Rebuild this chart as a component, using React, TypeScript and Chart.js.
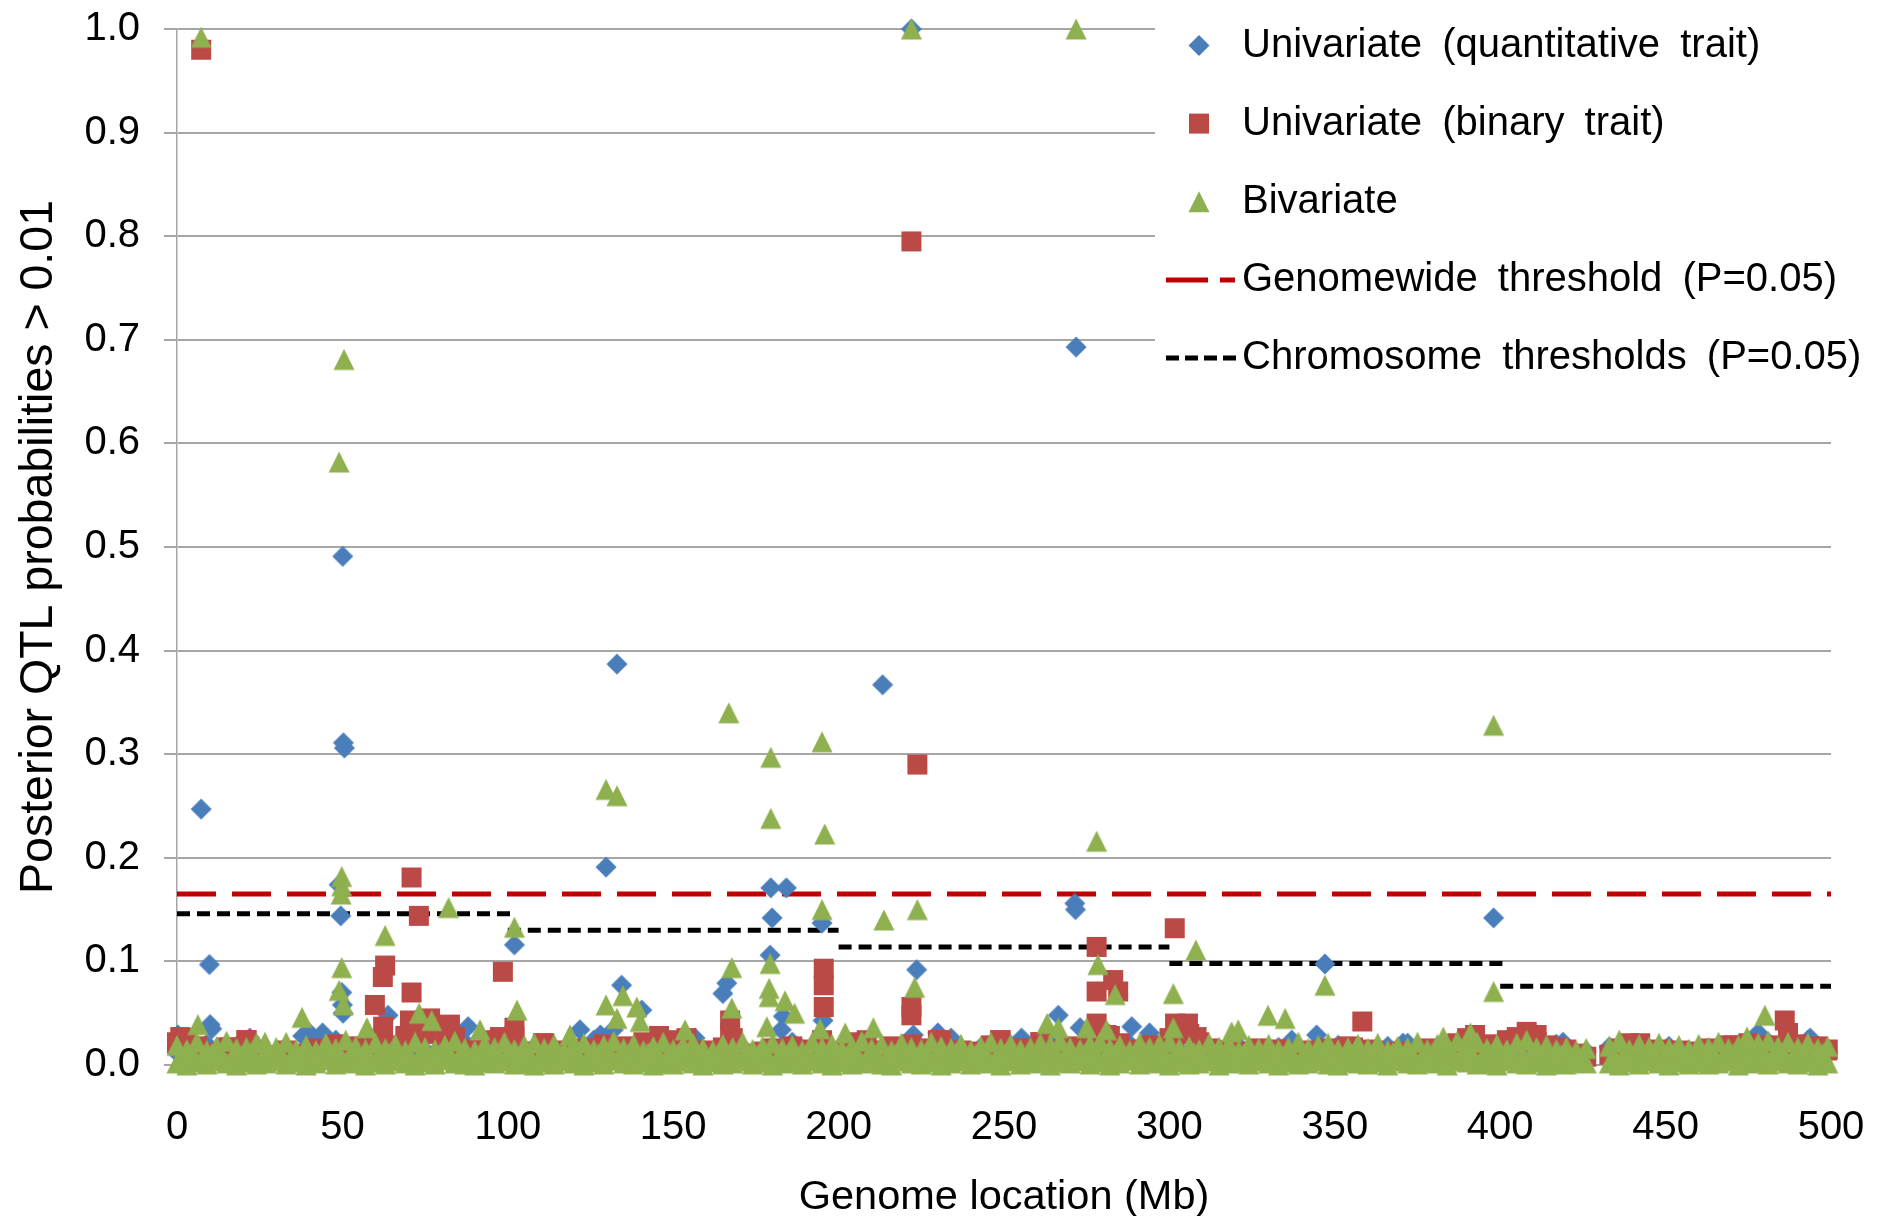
import React, { useEffect, useRef } from 'react';
import { Chart, registerables } from 'chart.js';

Chart.register(...registerables);

// ---------- data ----------
const xTitle = 'Genome location (Mb)';
const yTitle = 'Posterior QTL probabilities > 0.01';
const legendLabels = [
  'Univariate (quantitative trait)',
  'Univariate (binary trait)',
  'Bivariate',
  'Genomewide threshold (P=0.05)',
  'Chromosome thresholds (P=0.05)',
];

// marker positions (Mb) for the low background probabilities
const markerMb = [
  0, 3, 6, 9, 12, 15, 18, 21, 24, 27,
  30, 33, 36, 39, 42, 45, 48, 51, 54, 57,
  60, 63, 66, 69, 72, 75, 78, 81, 84, 87,
  90, 93, 96, 99, 102, 105, 108, 111, 114, 117,
  120, 123, 126, 129, 132, 135, 138, 141, 144, 147,
  150, 153, 156, 159, 162, 165, 168, 171, 174, 177,
  180, 183, 186, 189, 192, 195, 198, 201, 204, 207,
  210, 213, 216, 219, 222, 225, 228, 231, 234, 237,
  240, 243, 246, 249, 252, 255, 258, 261, 264, 267,
  270, 273, 276, 279, 282, 285, 288, 291, 294, 297,
  300, 303, 306, 309, 312, 315, 318, 321, 324, 327,
  330, 333, 336, 339, 342, 345, 348, 351, 354, 357,
  360, 363, 366, 369, 372, 375, 378, 381, 384, 387,
  390, 393, 396, 399, 402, 405, 408, 411, 414, 417,
  420, 423, 426,
  433, 436, 439, 442, 445, 448, 451, 454, 457,
  460, 463, 466, 469, 472, 475, 478, 481, 484, 487,
  490, 493, 496, 499,
];

// in-between marker positions (Mb)
const midMarkerMb = [
  1.5, 4.5, 7.5, 10.5, 13.5, 16.5, 19.5, 22.5, 25.5, 28.5,
  31.5, 34.5, 37.5, 40.5, 43.5, 46.5, 49.5, 52.5, 55.5, 58.5,
  61.5, 64.5, 67.5, 70.5, 73.5, 76.5, 79.5, 82.5, 85.5, 88.5,
  91.5, 94.5, 97.5, 100.5, 103.5, 106.5, 109.5, 112.5, 115.5, 118.5,
  121.5, 124.5, 127.5, 130.5, 133.5, 136.5, 139.5, 142.5, 145.5, 148.5,
  151.5, 154.5, 157.5, 160.5, 163.5, 166.5, 169.5, 172.5, 175.5, 178.5,
  181.5, 184.5, 187.5, 190.5, 193.5, 196.5, 199.5, 202.5, 205.5, 208.5,
  211.5, 214.5, 217.5, 220.5, 223.5, 226.5, 229.5, 232.5, 235.5, 238.5,
  241.5, 244.5, 247.5, 250.5, 253.5, 256.5, 259.5, 262.5, 265.5, 268.5,
  271.5, 274.5, 277.5, 280.5, 283.5, 286.5, 289.5, 292.5, 295.5, 298.5,
  301.5, 304.5, 307.5, 310.5, 313.5, 316.5, 319.5, 322.5, 325.5, 328.5,
  331.5, 334.5, 337.5, 340.5, 343.5, 346.5, 349.5, 352.5, 355.5, 358.5,
  361.5, 364.5, 367.5, 370.5, 373.5, 376.5, 379.5, 382.5, 385.5, 388.5,
  391.5, 394.5, 397.5, 400.5, 403.5, 406.5, 409.5, 412.5, 415.5, 418.5,
  421.5, 424.5,
  434.5, 437.5, 440.5, 443.5, 446.5, 449.5, 452.5, 455.5, 458.5,
  461.5, 464.5, 467.5, 470.5, 473.5, 476.5, 479.5, 482.5, 485.5, 488.5,
  491.5, 494.5, 497.5,
];

const quantBaseP = [
  0.012, 0.009, 0.015, 0.020, 0.008, 0.013, 0.018, 0.010, 0.016, 0.007,
  0.011, 0.017, 0.009, 0.014, 0.019, 0.012, 0.024, 0.010, 0.015, 0.008,
  0.013, 0.020, 0.011, 0.016, 0.009, 0.014, 0.012, 0.018, 0.010, 0.022,
  0.008, 0.015, 0.012, 0.019, 0.010, 0.013, 0.017, 0.009, 0.014, 0.011,
  0.016, 0.010, 0.024, 0.013, 0.018, 0.011, 0.015, 0.020, 0.009, 0.014,
  0.012, 0.017, 0.010, 0.015, 0.013, 0.019, 0.011, 0.016, 0.009, 0.014,
  0.018, 0.012, 0.022, 0.015, 0.010, 0.017, 0.013, 0.019, 0.011, 0.016,
  0.009, 0.014, 0.012, 0.018, 0.010, 0.016, 0.013, 0.011, 0.020, 0.015,
  0.012, 0.017, 0.010, 0.014, 0.019, 0.011, 0.016, 0.013, 0.021, 0.009,
  0.015, 0.012, 0.018, 0.010, 0.016, 0.013, 0.020, 0.011, 0.014, 0.017,
  0.010, 0.015, 0.012, 0.019, 0.011, 0.016, 0.013, 0.018, 0.009, 0.014,
  0.012, 0.017, 0.010, 0.015, 0.013, 0.011, 0.016, 0.019, 0.012, 0.014,
  0.010, 0.015, 0.018, 0.012, 0.021, 0.014, 0.011, 0.016, 0.013, 0.019,
  0.012, 0.017, 0.014, 0.010, 0.016, 0.013, 0.018, 0.011, 0.015, 0.020,
  0.014, 0.010, 0.013,
  0.017, 0.012, 0.015, 0.010, 0.016, 0.013, 0.018, 0.011, 0.014,
  0.012, 0.016, 0.010, 0.015, 0.019, 0.013, 0.017, 0.022, 0.014, 0.011,
  0.016, 0.024, 0.013, 0.012,
];

const binaryBaseP = [
  0.022, 0.026, 0.018, 0.012, 0.008, 0.017, 0.010, 0.024, 0.015, 0.006,
  0.009, 0.014, 0.007, 0.011, 0.016, 0.008, 0.020, 0.012, 0.018, 0.010,
  0.025, 0.019, 0.014, 0.028, 0.022, 0.034, 0.030, 0.016, 0.027, 0.012,
  0.015, 0.009, 0.024, 0.019, 0.028, 0.013, 0.010, 0.021, 0.014, 0.008,
  0.011, 0.016, 0.009, 0.020, 0.013, 0.018, 0.010, 0.022, 0.012, 0.007,
  0.024, 0.012, 0.008, 0.014, 0.010, 0.017, 0.026, 0.011, 0.009, 0.013,
  0.016, 0.010, 0.018, 0.012, 0.015, 0.024, 0.009, 0.013, 0.022, 0.011,
  0.014, 0.008, 0.018, 0.012, 0.020, 0.011, 0.016, 0.024, 0.010, 0.014,
  0.009, 0.013, 0.019, 0.024, 0.012, 0.016, 0.010, 0.022, 0.014, 0.011,
  0.018, 0.013, 0.024, 0.030, 0.028, 0.021, 0.015, 0.012, 0.019, 0.009,
  0.026, 0.035, 0.030, 0.022, 0.016, 0.011, 0.014, 0.009, 0.013, 0.016,
  0.010, 0.015, 0.008, 0.012, 0.014, 0.009, 0.016, 0.011, 0.018, 0.013,
  0.015, 0.011, 0.009, 0.013, 0.008, 0.012, 0.016, 0.010, 0.014, 0.021,
  0.026, 0.018, 0.020, 0.016, 0.024, 0.027, 0.032, 0.022, 0.019, 0.017,
  0.015, 0.011, 0.008,
  0.010, 0.016, 0.021, 0.013, 0.011, 0.015, 0.012, 0.014, 0.010,
  0.013, 0.016, 0.011, 0.019, 0.017, 0.021, 0.016, 0.019, 0.018, 0.030,
  0.020, 0.016, 0.018, 0.015,
];

// bivariate background: floor, middle and upper rows
const bivariateFloorP = [
  0.002, 0.000, 0.003, 0.001, 0.004, 0.002, 0.000, 0.003, 0.001, 0.002,
  0.004, 0.001, 0.003, 0.000, 0.002, 0.005, 0.001, 0.003, 0.002, 0.000,
  0.003, 0.001, 0.004, 0.002, 0.000, 0.003, 0.001, 0.005, 0.002, 0.001,
  0.000, 0.003, 0.002, 0.004, 0.001, 0.002, 0.000, 0.003, 0.001, 0.004,
  0.002, 0.000, 0.003, 0.001, 0.005, 0.002, 0.001, 0.003, 0.000, 0.002,
  0.001, 0.004, 0.002, 0.000, 0.003, 0.001, 0.002, 0.004, 0.001, 0.003,
  0.000, 0.002, 0.003, 0.001, 0.004, 0.002, 0.000, 0.003, 0.001, 0.002,
  0.003, 0.001, 0.000, 0.004, 0.002, 0.001, 0.003, 0.000, 0.002, 0.004,
  0.001, 0.003, 0.002, 0.000, 0.004, 0.001, 0.003, 0.002, 0.000, 0.003,
  0.002, 0.004, 0.001, 0.003, 0.000, 0.002, 0.005, 0.001, 0.003, 0.002,
  0.000, 0.003, 0.001, 0.002, 0.004, 0.000, 0.002, 0.003, 0.001, 0.004,
  0.002, 0.000, 0.003, 0.001, 0.002, 0.004, 0.001, 0.000, 0.003, 0.002,
  0.001, 0.003, 0.000, 0.004, 0.002, 0.001, 0.003, 0.002, 0.000, 0.004,
  0.003, 0.001, 0.002, 0.000, 0.004, 0.002, 0.001, 0.003, 0.000, 0.002,
  0.001, 0.003, 0.002,
  0.002, 0.000, 0.003, 0.001, 0.004, 0.002, 0.000, 0.003, 0.001,
  0.003, 0.001, 0.002, 0.004, 0.000, 0.002, 0.003, 0.001, 0.004, 0.002,
  0.001, 0.003, 0.000, 0.002,
];
const bivariateMidP = [
  0.007, 0.010, 0.006, 0.011, 0.008, 0.005, 0.009, 0.012, 0.006, 0.008,
  0.010, 0.007, 0.005, 0.009, 0.011, 0.006, 0.008, 0.010, 0.007, 0.005,
  0.009, 0.012, 0.006, 0.008, 0.010, 0.005, 0.011, 0.007, 0.009, 0.006,
  0.008, 0.010, 0.005, 0.012, 0.007, 0.009, 0.006, 0.011, 0.008, 0.010,
  0.006, 0.009, 0.011, 0.007, 0.005, 0.010, 0.008, 0.012, 0.006, 0.009,
  0.011, 0.007, 0.009, 0.005, 0.010, 0.008, 0.006, 0.012, 0.009, 0.007,
  0.005, 0.010, 0.008, 0.011, 0.006, 0.009, 0.012, 0.007, 0.010, 0.005,
  0.008, 0.006, 0.011, 0.009, 0.007, 0.010, 0.005, 0.008, 0.012, 0.006,
  0.010, 0.008, 0.005, 0.011, 0.009, 0.006, 0.010, 0.007, 0.012, 0.008,
  0.006, 0.011, 0.009, 0.007, 0.010, 0.005, 0.008, 0.012, 0.006, 0.009,
  0.009, 0.007, 0.012, 0.005, 0.008, 0.010, 0.006, 0.011, 0.009, 0.007,
  0.011, 0.008, 0.006, 0.010, 0.007, 0.012, 0.009, 0.005, 0.010, 0.008,
  0.007, 0.010, 0.012, 0.006, 0.009, 0.008, 0.011, 0.005, 0.010, 0.007,
  0.009, 0.006, 0.011, 0.008, 0.010, 0.007, 0.012, 0.009, 0.006, 0.010,
  0.008, 0.005,
  0.007, 0.011, 0.009, 0.006, 0.010, 0.008, 0.012, 0.007, 0.009,
  0.006, 0.010, 0.008, 0.011, 0.007, 0.009, 0.012, 0.008, 0.010, 0.006,
  0.009, 0.007, 0.011,
];
const bivariateBaseP = [
  0.019, 0.015, 0.022, 0.014, 0.018, 0.023, 0.016, 0.017, 0.021, 0.014,
  0.017, 0.022, 0.015, 0.019, 0.014, 0.021, 0.016, 0.024, 0.018, 0.015,
  0.021, 0.016, 0.020, 0.014, 0.022, 0.017, 0.015, 0.019, 0.023, 0.016,
  0.014, 0.020, 0.017, 0.022, 0.015, 0.019, 0.021, 0.016, 0.020, 0.014,
  0.017, 0.021, 0.015, 0.019, 0.023, 0.016, 0.020, 0.014, 0.018, 0.022,
  0.015, 0.019, 0.021, 0.016, 0.014, 0.020, 0.017, 0.022, 0.015, 0.018,
  0.021, 0.016, 0.019, 0.014, 0.022, 0.017, 0.020, 0.015, 0.018, 0.023,
  0.016, 0.020, 0.014, 0.021, 0.017, 0.015, 0.022, 0.018, 0.016, 0.020,
  0.014, 0.018, 0.022, 0.016, 0.020, 0.015, 0.017, 0.021, 0.019, 0.023,
  0.017, 0.015, 0.020, 0.022, 0.016, 0.019, 0.014, 0.021, 0.017, 0.020,
  0.022, 0.016, 0.018, 0.015, 0.021, 0.017, 0.020, 0.014, 0.019, 0.016,
  0.020, 0.015, 0.017, 0.022, 0.016, 0.019, 0.021, 0.015, 0.017, 0.020,
  0.016, 0.021, 0.014, 0.018, 0.017, 0.022, 0.015, 0.020, 0.017, 0.023,
  0.019, 0.022, 0.016, 0.020, 0.015, 0.021, 0.024, 0.017, 0.019, 0.015,
  0.017, 0.014, 0.016,
  0.018, 0.022, 0.015, 0.020, 0.017, 0.021, 0.016, 0.019, 0.015,
  0.020, 0.017, 0.022, 0.016, 0.019, 0.015, 0.021, 0.023, 0.018, 0.022,
  0.017, 0.021, 0.016, 0.018,
];

// higher posterior probabilities (Mb, probability)
const quantPeakMb = [
  0.3, 7.3, 9.8, 10, 10.5, 22, 38, 40, 44, 49, 49.5, 49.8, 50, 50.2, 50.1, 50.3, 50.6,
  63.8, 88, 102, 121.8, 128, 129.7, 131.9, 133, 134.4, 140.5, 156.6, 165, 166.2,
  179.3, 179.5, 179.9, 182.7, 183.3, 184.2, 195, 195.3, 213.3, 222, 222.6, 223.6,
  230, 234, 255.3, 266.4, 271.4, 271.6, 271.8, 273, 288.6, 294, 337, 344.5, 347,
  370.6, 398, 419, 433, 478, 493.7,
];
const quantPeakP = [
  0.029, 0.247, 0.097, 0.039, 0.035, 0.026, 0.028, 0.031, 0.031, 0.174, 0.144, 0.070, 0.058, 0.050, 0.491, 0.311, 0.306,
  0.048, 0.037, 0.116, 0.034, 0.029, 0.191, 0.034, 0.387, 0.077, 0.053, 0.026, 0.069, 0.079,
  0.106, 0.171, 0.142, 0.034, 0.047, 0.171, 0.137, 0.043, 0.367, 1.0, 0.029, 0.092,
  0.031, 0.026, 0.026, 0.048, 0.156, 0.150, 0.693, 0.036, 0.037, 0.031, 0.024, 0.029, 0.0975,
  0.021, 0.142, 0.022, 0.017, 0.031, 0.026,
];

const binaryPeakMb = [
  1, 7.3, 16, 21, 59.8, 62.2, 62.3, 62.9, 70.4, 70.9, 70.9, 73.1, 76.5, 82.5, 97.6, 98.5,
  102, 110.6, 145.7, 154, 167.2, 167.2, 195.5, 195.5, 195.5, 208.5, 222, 222, 222, 223.8,
  230, 248.8, 261, 278, 278, 278, 281, 283, 284.5, 301.6, 301.7, 305.6, 308.2, 355.5,
  358.3, 361.6, 392.4, 405, 411, 442.3, 470.4, 486, 487, 498.8,
];
const binaryPeakP = [
  0.027, 0.980, 0.017, 0.024, 0.058, 0.085, 0.037, 0.096, 0.043, 0.181, 0.070, 0.144, 0.045, 0.039, 0.027, 0.090,
  0.036, 0.021, 0.028, 0.026, 0.043, 0.031, 0.093, 0.077, 0.056, 0.024, 0.795, 0.056, 0.048, 0.290,
  0.024, 0.024, 0.022, 0.114, 0.071, 0.040, 0.029, 0.082, 0.071, 0.132, 0.040, 0.040, 0.027, 0.017,
  0.042, 0.014, 0.029, 0.024, 0.029, 0.021, 0.019, 0.043, 0.031, 0.014,
];

const bivariatePeakMb = [
  6.3, 7.3, 26.6, 37.8, 49, 49, 49.6, 49.8, 49.8, 49.8, 50.3, 50.5, 57.4, 62.9, 73.2, 77,
  82.1, 91.6, 102, 102.8, 118.8, 129.7, 129.7, 133, 133, 134.8, 139, 140, 153.6, 166.8,
  167.7, 167.7, 178.3, 179.5, 179.5, 179.3, 179, 179, 183.8, 186.7, 194.4, 195, 195.8, 195,
  202, 210.5, 213.7, 222, 223, 223.8, 263, 266.4, 271.8, 275, 278, 278.4, 281, 283.6,
  301.2, 301.2, 308, 318.8, 320.8, 329.8, 335, 347, 382.8, 391, 398, 398, 436, 474.6, 480,
];
const bivariatePeakP = [
  0.039, 0.992, 0.022, 0.046, 0.582, 0.072, 0.165, 0.182, 0.173, 0.094, 0.058, 0.681, 0.036, 0.125, 0.050, 0.043,
  0.152, 0.034, 0.133, 0.053, 0.029, 0.266, 0.058, 0.260, 0.045, 0.067, 0.056, 0.042, 0.034, 0.340,
  0.094, 0.055, 0.037, 0.297, 0.238, 0.098, 0.074, 0.066, 0.062, 0.050, 0.035, 0.312, 0.223, 0.150,
  0.031, 0.036, 0.140, 1.0, 0.075, 0.150, 0.040, 0.036, 1.0, 0.036, 0.216, 0.097, 0.034, 0.068,
  0.069, 0.036, 0.111, 0.032, 0.034, 0.048, 0.045, 0.077, 0.027, 0.031, 0.328, 0.071, 0.024, 0.027, 0.048,
];

// thresholds
const genomeRangeMb = [0, 500];
const genomewideP = 0.165;
const chromStartMb = [0, 100, 200, 300, 400];
const chromEndMb = [101, 200, 300, 401, 500];
const chromP = [0.146, 0.130, 0.114, 0.098, 0.076];

// ---------- styling ----------
const FONT = '"Liberation Sans", Arial, sans-serif';
const BLUE = '#4A7EBB';
const RED = '#BB4A47';
const GREEN = '#8FB04F';
const GRID = '#A6A6A6';

const pts = (xs: number[], ys: number[]) => xs.map((x, i) => ({ x, y: ys[i] }));

type Shape = 'diamond' | 'square' | 'triangle';
function traceShape(g: CanvasRenderingContext2D, shape: Shape, cx: number, cy: number) {
  g.beginPath();
  if (shape === 'diamond') {
    g.moveTo(cx, cy - 10.5);
    g.lineTo(cx + 10.5, cy);
    g.lineTo(cx, cy + 10.5);
    g.lineTo(cx - 10.5, cy);
  } else if (shape === 'square') {
    g.rect(cx - 10, cy - 10, 20, 20);
  } else {
    g.moveTo(cx, cy - 10.5);
    g.lineTo(cx + 10.5, cy + 10.5);
    g.lineTo(cx - 10.5, cy + 10.5);
  }
  g.closePath();
}
function makeMarker(shape: Shape, color: string) {
  const c = document.createElement('canvas');
  c.width = 24;
  c.height = 24;
  const g = c.getContext('2d')!;
  g.fillStyle = color;
  traceShape(g, shape, 12, 12);
  g.fill();
  return c;
}

const legendPlugin = {
  id: 'qtlLegend',
  afterDraw(chart: any) {
    const ctx = chart.ctx as CanvasRenderingContext2D;
    ctx.save();
    ctx.fillStyle = '#ffffff';
    ctx.fillRect(1155, 0, 730, 392);
    const rows = [45.5, 123.6, 201.8, 280, 358];
    const mx = 1199;
    ctx.fillStyle = BLUE;
    traceShape(ctx, 'diamond', mx, rows[0]);
    ctx.fill();
    ctx.fillStyle = RED;
    traceShape(ctx, 'square', mx, rows[1]);
    ctx.fill();
    ctx.fillStyle = GREEN;
    traceShape(ctx, 'triangle', mx, rows[2]);
    ctx.fill();
    // red dashed
    ctx.lineWidth = 5;
    ctx.strokeStyle = '#C00000';
    ctx.setLineDash([42, 12]);
    ctx.beginPath();
    ctx.moveTo(1166, rows[3]);
    ctx.lineTo(1235, rows[3]);
    ctx.stroke();
    // black dashed
    ctx.strokeStyle = '#000000';
    ctx.setLineDash([13, 6]);
    ctx.beginPath();
    ctx.moveTo(1166, rows[4]);
    ctx.lineTo(1237, rows[4]);
    ctx.stroke();
    ctx.setLineDash([]);
    // text
    ctx.fillStyle = '#000000';
    ctx.font = `40px ${FONT}`;
    ctx.textBaseline = 'middle';
    ctx.textAlign = 'left';
    try { (ctx as any).wordSpacing = '9px'; } catch (e) {}
    legendLabels.forEach((t, i) => ctx.fillText(t, 1242, rows[i]));
    ctx.restore();
  },
};

export default function App() {
  const ref = useRef<HTMLCanvasElement>(null);

  useEffect(() => {
    if (!ref.current) return;
    const lineBase = {
      type: 'line' as const,
      showLine: true,
      pointRadius: 0,
      borderWidth: 5,
      fill: false,
      clip: false as const,
      order: 5,
    };
    const datasets: any[] = [
      {
        label: legendLabels[0],
        data: [...pts(markerMb, quantBaseP), ...pts(quantPeakMb, quantPeakP)],
        pointStyle: makeMarker('diamond', BLUE),
        pointRadius: 10,
        backgroundColor: BLUE,
        borderColor: BLUE,
        borderWidth: 0,
        clip: false,
        order: 3,
      },
      {
        label: legendLabels[1],
        data: [...pts(markerMb, binaryBaseP), ...pts(binaryPeakMb, binaryPeakP)],
        pointStyle: makeMarker('square', RED),
        pointRadius: 10,
        backgroundColor: RED,
        borderColor: RED,
        borderWidth: 0,
        clip: false,
        order: 2,
      },
      {
        label: legendLabels[2],
        data: [
          ...pts(markerMb, bivariateFloorP),
          ...pts(midMarkerMb, bivariateMidP),
          ...pts(markerMb, bivariateBaseP),
          ...pts(bivariatePeakMb, bivariatePeakP),
        ],
        pointStyle: makeMarker('triangle', GREEN),
        pointRadius: 10,
        backgroundColor: GREEN,
        borderColor: GREEN,
        borderWidth: 0,
        clip: false,
        order: 1,
      },
      {
        ...lineBase,
        label: legendLabels[3],
        data: genomeRangeMb.map((x) => ({ x, y: genomewideP })),
        borderColor: '#C00000',
        borderDash: [39, 16],
      },
      ...chromP.map((p, i) => ({
        ...lineBase,
        label: legendLabels[4],
        data: [
          { x: chromStartMb[i], y: p },
          { x: chromEndMb[i], y: p },
        ],
        borderColor: '#000000',
        borderDash: [13, 7],
      })),
    ];

    const chart = new Chart(ref.current, {
      type: 'scatter',
      data: { datasets },
      options: {
        responsive: false,
        animation: false,
        devicePixelRatio: 1,
        events: [],
        layout: { autoPadding: false, padding: { top: 29, right: 54, left: 0, bottom: 0 } },
        plugins: {
          legend: { display: false },
          tooltip: { enabled: false },
        },
        scales: {
          x: {
            type: 'linear',
            min: 0,
            max: 500,
            afterFit: (s: any) => {
              s.height = 151;
              s.paddingLeft = 0;
              s.paddingRight = 0;
            },
            ticks: {
              stepSize: 50,
              color: '#000',
              padding: 31,
              font: { size: 40, family: FONT },
              maxRotation: 0,
            },
            grid: {
              drawOnChartArea: false,
              drawTicks: true,
              tickLength: 8,
              color: GRID,
              lineWidth: 1.5,
            },
            border: { display: true, color: GRID, width: 1.5 },
            title: {
              display: true,
              text: xTitle,
              color: '#000',
              font: { size: 41.5, family: FONT, lineHeight: 0.9 },
              padding: { top: 0, bottom: 0 },
            },
          },
          y: {
            type: 'linear',
            min: 0,
            max: 1,
            afterFit: (s: any) => {
              s.width = 177;
              s.paddingTop = 0;
              s.paddingBottom = 0;
            },
            ticks: {
              stepSize: 0.1,
              color: '#000',
              padding: 24,
              font: { size: 40, family: FONT },
              callback: (v: any) => Number(v).toFixed(1),
            },
            grid: {
              drawTicks: true,
              tickLength: 13,
              color: GRID,
              lineWidth: 2,
            },
            border: { display: true, color: GRID, width: 1.5 },
            title: {
              display: true,
              text: yTitle,
              color: '#000',
              font: { size: 46.5, family: FONT, lineHeight: 1.2 },
              padding: { top: 11, bottom: 0 },
            },
          },
        },
      },
      plugins: [legendPlugin],
    } as any);
    return () => chart.destroy();
  }, []);

  return (
    <div style={{ position: 'absolute', left: 0, top: 0, width: 1885, height: 1216, background: '#fff' }}>
      <canvas ref={ref} width={1885} height={1216} style={{ display: 'block', width: 1885, height: 1216 }} />
    </div>
  );
}
